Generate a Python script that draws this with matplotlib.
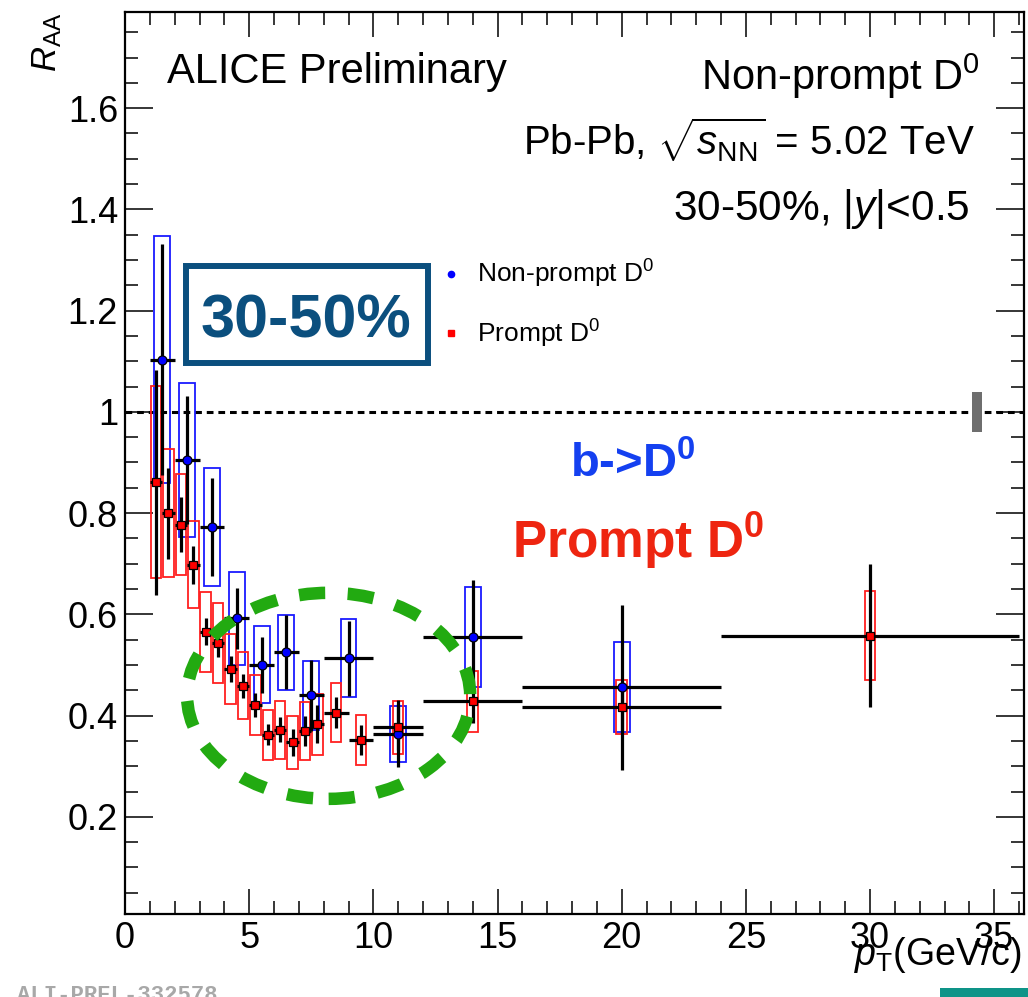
import matplotlib.pyplot as plt
from matplotlib.lines import Line2D
from matplotlib.patches import Ellipse, Rectangle
from matplotlib.ticker import FixedLocator, FuncFormatter, MultipleLocator

plt.rcParams["font.family"] = ["Liberation Sans", "DejaVu Sans"]
plt.rcParams["mathtext.fontset"] = "custom"
plt.rcParams["mathtext.rm"] = "Liberation Sans"
plt.rcParams["mathtext.it"] = "Liberation Sans:italic"
plt.rcParams["mathtext.bf"] = "Liberation Sans:bold"

W, H = 1028, 997

# non-prompt D0 (b -> D0), 30-50%
np_pt = [1.5, 2.5, 3.5, 4.5, 5.5, 6.5, 7.5, 9.0, 11.0, 14.0, 20.0]
np_binw = [0.5, 0.5, 0.5, 0.5, 0.5, 0.5, 0.5, 1.0, 1.0, 2.0, 4.0]
np_raa = [1.103, 0.905, 0.773, 0.592, 0.500, 0.525, 0.440, 0.513, 0.364, 0.555, 0.456]
np_stat = [0.228, 0.127, 0.097, 0.061, 0.056, 0.073, 0.070, 0.074, 0.066, 0.112, 0.163]
np_syst = [0.244, 0.152, 0.117, 0.092, 0.076, 0.074, 0.068, 0.077, 0.055, 0.099, 0.089]

# prompt D0, 30-50%
pr_pt = [1.25, 1.75, 2.25, 2.75, 3.25, 3.75, 4.25, 4.75, 5.25, 5.75,
         6.25, 6.75, 7.25, 7.75, 8.5, 9.5, 11.0, 14.0, 20.0, 30.0]
pr_binw = [0.25, 0.25, 0.25, 0.25, 0.25, 0.25, 0.25, 0.25, 0.25, 0.25,
           0.25, 0.25, 0.25, 0.25, 0.5, 0.5, 1.0, 2.0, 4.0, 6.0]
pr_raa = [0.861, 0.800, 0.777, 0.698, 0.566, 0.543, 0.492, 0.459, 0.421, 0.362,
          0.372, 0.347, 0.370, 0.383, 0.406, 0.352, 0.377, 0.428, 0.417, 0.558]
pr_stat = [0.222, 0.090, 0.054, 0.038, 0.027, 0.027, 0.025, 0.024, 0.023, 0.021,
           0.025, 0.026, 0.030, 0.037, 0.031, 0.030, 0.045, 0.043, 0.050, 0.142]
pr_syst = [0.190, 0.127, 0.100, 0.086, 0.079, 0.079, 0.069, 0.066, 0.059, 0.050,
           0.057, 0.052, 0.057, 0.060, 0.059, 0.049, 0.052, 0.061, 0.054, 0.088]

norm_unc = 0.04


def fx(px):
    return px / W


def fy(py):
    return 1 - py / H


fig = plt.figure(figsize=(W / 100, H / 100), dpi=100)
ax = fig.add_axes([fx(125), fy(914), fx(1024) - fx(125), fy(12) - fy(914)])
ax.set_xlim(0, 36.2)
ax.set_ylim(0.008, 1.79)

# reference line and normalisation box
ax.axhline(1.0, color="black", lw=2.2, ls=(0, (2.2, 1.6)), zorder=1)
ax.add_patch(Rectangle((34.1, 1 - norm_unc), 0.42, 2 * norm_unc,
                       fc="#6e6e6e", ec="none", zorder=2))

# systematic boxes
for x, y, s in zip(np_pt, np_raa, np_syst):
    ax.add_patch(Rectangle((x - 0.32, y - s), 0.64, 2 * s, fill=False,
                           ec="#1a1aff", lw=1.3, zorder=3))
for x, y, s in zip(pr_pt, pr_raa, pr_syst):
    ax.add_patch(Rectangle((x - 0.21, y - s), 0.42, 2 * s, fill=False,
                           ec="#ff2020", lw=1.3, zorder=3))

# statistical errors
ax.errorbar(np_pt, np_raa, xerr=np_binw, yerr=np_stat, fmt="none",
            ecolor="black", elinewidth=2.3, capsize=0, zorder=4)
ax.errorbar(pr_pt, pr_raa, xerr=pr_binw, yerr=pr_stat, fmt="none",
            ecolor="black", elinewidth=2.3, capsize=0, zorder=4)
ax.plot(np_pt, np_raa, "o", ms=6.5, mfc="#0000ff", mec="black", mew=0.9, zorder=5)
ax.plot(pr_pt, pr_raa, "s", ms=6.3, mfc="#ff0000", mec="black", mew=0.9, zorder=6)

# highlighted region
ax.add_patch(Ellipse((8.2, 0.439), 11.4, 0.407, fill=False, ec="#22aa11",
                     lw=9, ls=(0, (2.1, 1.8)), zorder=7))

# axes style
for sp in ax.spines.values():
    sp.set_linewidth(1.6)
ax.xaxis.set_major_locator(MultipleLocator(5))
ax.xaxis.set_minor_locator(MultipleLocator(1))
ax.yaxis.set_major_locator(FixedLocator([0.2, 0.4, 0.6, 0.8, 1.0, 1.2, 1.4, 1.6]))
ax.yaxis.set_minor_locator(MultipleLocator(0.05))
ax.yaxis.set_major_formatter(FuncFormatter(lambda v, p: f"{v:g}"))
ax.tick_params(which="both", direction="in", top=True, right=True,
               width=1.1, labelsize=26, pad=5)
ax.tick_params(axis="x", which="major", length=18)
ax.tick_params(axis="x", which="minor", length=9.5)
ax.tick_params(axis="y", which="major", length=20)
ax.tick_params(axis="y", which="minor", length=9.5)

fig.text(fx(1022), fy(965), r"$p_{\rm T}$(GeV/c)", ha="right", va="baseline", fontsize=27)
fig.text(fx(47), fy(13), r"$R_{\rm AA}$", rotation=90, ha="center", va="top", fontsize=25)

# labels
fig.text(fx(167), fy(83), "ALICE Preliminary", ha="left", va="baseline", fontsize=30)
fig.text(fx(980), fy(90), r"Non-prompt D$^0$", ha="right", va="baseline", fontsize=30)
fig.text(fx(975), fy(155), r"Pb-Pb, $\sqrt{s_{\rm NN}}$ = 5.02 TeV",
         ha="right", va="baseline", fontsize=29)
fig.text(fx(970), fy(220), r"30-50%, |$y$|<0.5", ha="right", va="baseline", fontsize=30.5)

fig.text(fx(570), fy(477), r"b->D$^\mathbf{0}$", ha="left", va="baseline",
         fontsize=34, fontweight="bold", color="#1440f0")
fig.text(fx(512), fy(558), r"Prompt D$^\mathbf{0}$", ha="left", va="baseline",
         fontsize=37, fontweight="bold", color="#ee2510")

# centrality box
fig.add_artist(Rectangle((fx(186), fy(363)), fx(428) - fx(186), fy(266) - fy(363),
                         transform=fig.transFigure, fill=False, ec="#0b4f7e", lw=4.3))
fig.text(fx(306), fy(338), "30-50%", ha="center", va="baseline", fontsize=44,
         fontweight="bold", color="#0b4f7e")

handles = [
    Line2D([], [], ls="none", marker="o", ms=4.5, mfc="#0000ff", mec="#0000ff"),
    Line2D([], [], ls="none", marker="s", ms=4.5, mfc="#ff0000", mec="#ff0000"),
]
ax.legend(handles, [r"Non-prompt D$^0$", r"Prompt D$^0$"], loc="upper left",
          bbox_to_anchor=(fx(440), fy(258)), bbox_transform=fig.transFigure,
          frameon=False, fontsize=19, handlelength=0.8, handletextpad=0.6,
          labelspacing=1.05, borderpad=0, borderaxespad=0)

fig.text(fx(17), fy(985), "ALI-PREL-332578", ha="left", va="top", fontsize=16,
         family="Liberation Mono", fontweight="bold", color="#a8a8a8")
fig.add_artist(Rectangle((fx(940), 0), fx(1028) - fx(940), 9 / H,
                         transform=fig.transFigure, fc="#0e9488", ec="none"))

fig.savefig("out.png", dpi=100)
